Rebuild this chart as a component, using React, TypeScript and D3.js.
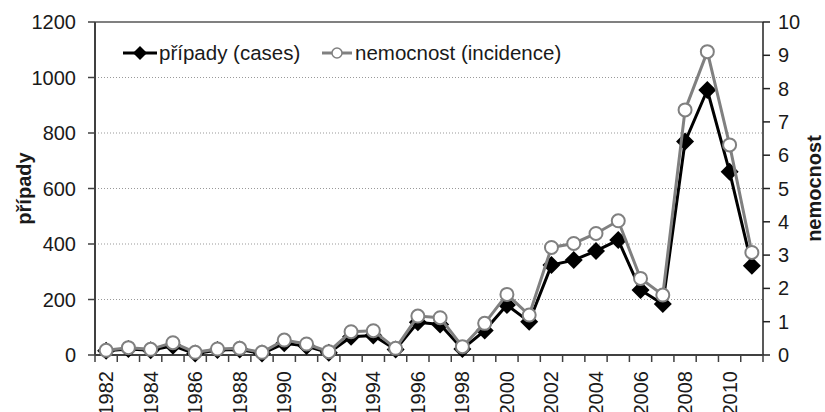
import React from 'react'
import { scaleBand, scaleLinear, line, range } from 'd3'

// years on the category axis
const years = range(1982, 2012)

// případy (cases) - left axis
const cases = [15, 22, 17, 33, 5, 18, 20, 5, 42, 32, 8, 66, 70, 20, 118, 110, 22, 88, 180, 120, 324, 342, 375, 414, 234, 184, 769, 955, 660, 322]

// nemocnost (incidence) - right axis
const incidence = [0.14, 0.22, 0.17, 0.37, 0.08, 0.18, 0.2, 0.08, 0.45, 0.33, 0.1, 0.7, 0.73, 0.2, 1.17, 1.12, 0.25, 0.95, 1.82, 1.2, 3.23, 3.35, 3.65, 4.03, 2.3, 1.8, 7.36, 9.11, 6.31, 3.08]

const leftTicks = [0, 200, 400, 600, 800, 1000, 1200]
const rightTicks = [0, 1, 2, 3, 4, 5, 6, 7, 8, 9, 10]
const yearLabels = years.filter(y => y % 2 === 0)

const W = 825
const H = 412
const margin = { top: 22, right: 62, bottom: 57, left: 95 }
const font = '"Liberation Sans", Arial, sans-serif'
const fs = 20

const App = () => {
    const x = scaleBand<number>()
        .domain(years)
        .range([margin.left, W - margin.right])
    const yL = scaleLinear().domain([0, 1200]).range([H - margin.bottom, margin.top])
    const yR = scaleLinear().domain([0, 10]).range([H - margin.bottom, margin.top])

    const cx = (yr: number) => x(yr)! + x.bandwidth() / 2
    const bottom = H - margin.bottom
    const left = margin.left
    const right = W - margin.right

    const casesLine = line<number>().x((_, i) => cx(years[i])).y(d => yL(d))
    const incLine = line<number>().x((_, i) => cx(years[i])).y(d => yR(d))

    const diamond = (px: number, py: number, r: number) =>
        `M${px},${py - r}L${px + r},${py}L${px},${py + r}L${px - r},${py}Z`

    return (
        <svg width={W} height={H} style={{ position: 'fixed', left: 0, top: 0, background: 'white' }}
            fontFamily={font}>
            {/* grid */}
            {leftTicks.slice(1, -1).map(t => (
                <line key={t} x1={left} x2={right} y1={yL(t)} y2={yL(t)}
                    stroke="#999" strokeWidth={1} strokeDasharray="1,2" />
            ))}
            <line x1={left} x2={right} y1={yL(1200)} y2={yL(1200)} stroke="#808080" strokeWidth={2} />

            {/* left axis */}
            <line x1={left} x2={left} y1={margin.top} y2={bottom} stroke="#404040" strokeWidth={2} />
            {leftTicks.map(t => (
                <g key={t}>
                    <line x1={left - 7} x2={left} y1={yL(t)} y2={yL(t)} stroke="#404040" strokeWidth={1.5} />
                    <text x={left - 19} y={yL(t)} dy="0.35em" textAnchor="end" fontSize={fs} fill="#1a1a1a">{t}</text>
                </g>
            ))}
            <text transform={`translate(31,${(margin.top + bottom) / 2}) rotate(-90)`} textAnchor="middle"
                fontSize={fs} fontWeight="bold" fill="#1a1a1a">případy</text>

            {/* right axis */}
            <line x1={right} x2={right} y1={margin.top} y2={bottom} stroke="#222" strokeWidth={1.5} />
            {rightTicks.map(t => (
                <g key={t}>
                    <line x1={right} x2={right + 7} y1={yR(t)} y2={yR(t)} stroke="#222" strokeWidth={1.5} />
                    <text x={right + 15} y={yR(t)} dy="0.35em" textAnchor="start" fontSize={fs} fill="#1a1a1a">{t}</text>
                </g>
            ))}
            <text transform={`translate(821,${(margin.top + bottom) / 2}) rotate(-90)`} textAnchor="middle"
                fontSize={fs} fontWeight="bold" fill="#1a1a1a">nemocnost</text>

            {/* bottom axis */}
            <line x1={left} x2={right} y1={bottom} y2={bottom} stroke="#404040" strokeWidth={2} />
            {years.concat([2012]).map((yr, i) => {
                const px = i < years.length ? x(yr)! : right
                return <line key={yr} x1={px} x2={px} y1={bottom} y2={bottom + 7} stroke="#404040" strokeWidth={1.5} />
            })}
            {yearLabels.map(yr => (
                <text key={yr} transform={`translate(${cx(yr)},${bottom + 16}) rotate(-90)`} dy="0.35em"
                    textAnchor="end" fontSize={fs} fill="#1a1a1a">{yr}</text>
            ))}

            {/* cases series */}
            <path d={casesLine(cases)!} fill="none" stroke="#000" strokeWidth={3} />
            {cases.map((d, i) => (
                <path key={i} d={diamond(cx(years[i]), yL(d), 9)} fill="#000" />
            ))}

            {/* incidence series */}
            <path d={incLine(incidence)!} fill="none" stroke="#808080" strokeWidth={3} />
            {incidence.map((d, i) => (
                <circle key={i} cx={cx(years[i])} cy={yR(d)} r={6.5} fill="white" stroke="#808080" strokeWidth={2} />
            ))}

            {/* legend */}
            <line x1={123} x2={157} y1={53} y2={53} stroke="#000" strokeWidth={3} />
            <path d={diamond(140, 53, 7)} fill="#000" />
            <text x={159} y={53} dy="0.35em" fontSize={20.5} fill="#1a1a1a">případy (cases)</text>
            <line x1={322} x2={352} y1={53} y2={53} stroke="#808080" strokeWidth={3} />
            <circle cx={337} cy={53} r={5} fill="white" stroke="#808080" strokeWidth={1.5} />
            <text x={355} y={53} dy="0.35em" fontSize={20.5} fill="#1a1a1a">nemocnost (incidence)</text>
        </svg>
    )
}

export default App
